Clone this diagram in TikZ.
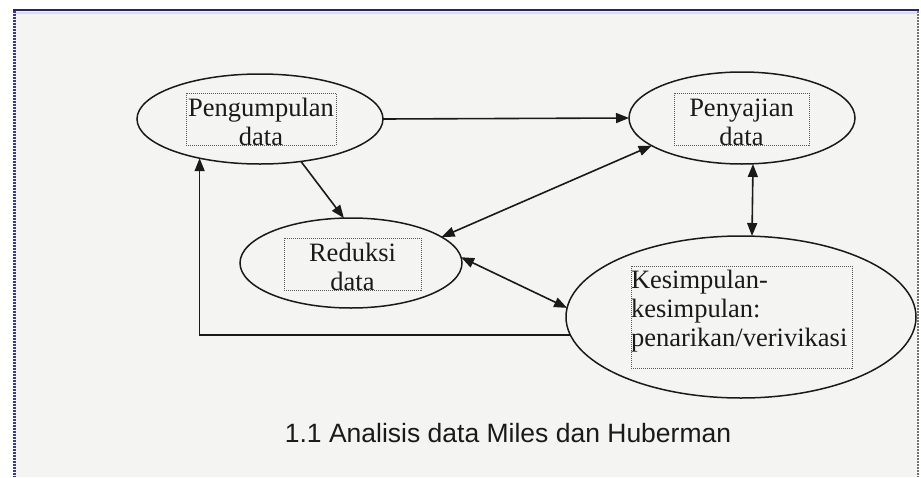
\documentclass[tikz,border=0pt]{standalone}
\usepackage{fontspec}
\setmainfont{Liberation Serif}
\newfontfamily\capfont{Liberation Sans}
\usetikzlibrary{shapes.geometric,arrows.meta}

\definecolor{pagebg}{HTML}{F4F4F2}
\definecolor{framenavy}{HTML}{23236E}
\definecolor{framelav}{HTML}{DCDCEE}
\definecolor{frameblue}{HTML}{3A3A9A}
\definecolor{ink}{HTML}{1A1A1A}

\begin{document}
\begin{tikzpicture}[x=1pt,y=-1pt,
  stage/.style={ellipse, draw=ink, line width=1.5pt, inner sep=0pt, outer sep=0pt},
  txtbox/.style={draw=black!65, line width=0.8pt, dash pattern=on 1pt off 1pt,
    inner xsep=0pt, inner ysep=0pt, align=center, text=ink,
    font=\fontsize{26.5}{29}\selectfont, text height=23pt, text depth=29pt},
  tip/.tip={Triangle[length=13pt,width=10pt]},
  flow/.style={line width=1.6pt, draw=ink, -tip},
  both/.style={line width=1.6pt, draw=ink, tip-tip}
]
\useasboundingbox (0,0) rectangle (921,477);

% page and window frame
\fill[white] (0,0) rectangle (921,477);
\fill[pagebg] (14,10) rectangle (918,477);
\draw[framelav, line width=2pt] (14,12.5) -- (918,12.5);
\draw[framenavy, line width=2pt] (13,10) -- (919,10);
\draw[frameblue, line width=3pt, dash pattern=on 1.5pt off 1.5pt] (14.5,11) -- (14.5,477);
\draw[black!55, line width=2pt, dash pattern=on 1.5pt off 1.5pt] (918,11) -- (918,477);

% stages
\node[stage, minimum width=246pt, minimum height=90pt] (p) at (260,119) {};
\node[stage, minimum width=226pt, minimum height=92pt] (s) at (742,118) {};
\node[stage, minimum width=222pt, minimum height=90pt] (r) at (351,263) {};
\node[stage, minimum width=350pt, minimum height=162pt] (k) at (741,317) {};

% stage texts
\node[txtbox, text width=150pt] (pt) at (261,119) {Pengumpulan\\data};
\node[txtbox, text width=135pt] (st) at (741.5,119) {Penyajian\\data};
\node[txtbox, text width=137pt] (rt) at (352.5,264) {Reduksi\\data};
\node[txtbox, text width=221pt, align=left, text height=22pt, text depth=80pt] (kt) at (741.5,317)
  {Kesimpulan-\\kesimpulan:\\penarikan/verivikasi};

% connectors
\draw[flow] (p.east) -- (s.west);
\draw[flow] (p.-46) -- (r.99);
\draw[both] (r.16) -- (s.197);
\draw[both] ([xshift=11pt]s.south) -- ([xshift=11pt]k.north);
\draw[both] (r.3) -- (k.177);
\draw[flow] (k.186) -| (p.213);

% caption
\node[font=\capfont\fontsize{26.5}{30}\selectfont, text=ink, anchor=base] (cap) at (508,442)
  {1.1 Analisis data Miles dan Huberman};
\end{tikzpicture}
\end{document}
